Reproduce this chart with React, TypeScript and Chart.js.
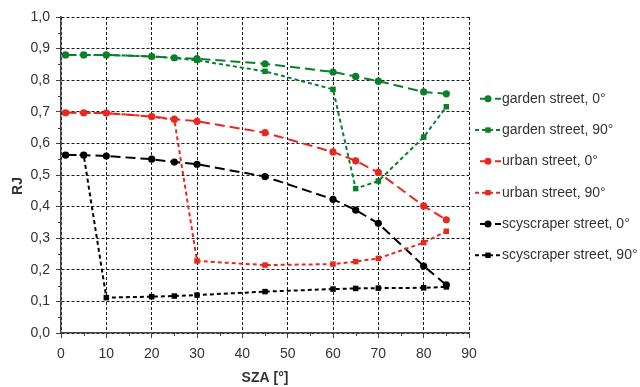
import React, { useEffect, useRef } from 'react';
import { Chart, registerables } from 'chart.js';

Chart.register(...registerables);

// ---- data ----
const sza = [1, 5, 10, 20, 25, 30, 45, 60, 65, 70, 80, 85];
const garden0 = [0.880, 0.880, 0.880, 0.875, 0.871, 0.868, 0.852, 0.826, 0.812, 0.797, 0.763, 0.757];
const garden90 = [0.880, 0.880, 0.880, 0.875, 0.870, 0.863, 0.828, 0.771, 0.457, 0.481, 0.620, 0.716];
const urban0 = [0.697, 0.697, 0.696, 0.685, 0.677, 0.670, 0.634, 0.573, 0.545, 0.508, 0.402, 0.358];
const urban90 = [0.697, 0.697, 0.696, 0.685, 0.675, 0.228, 0.215, 0.218, 0.226, 0.236, 0.286, 0.322];
const sky0 = [0.563, 0.563, 0.560, 0.550, 0.541, 0.534, 0.495, 0.423, 0.389, 0.347, 0.212, 0.152];
const sky90 = [0.563, 0.563, 0.112, 0.115, 0.117, 0.120, 0.131, 0.139, 0.141, 0.142, 0.143, 0.146];

const seriesLabels = [
  'garden street, 0°',
  'garden street, 90°',
  'urban street, 0°',
  'urban street, 90°',
  'scyscraper street, 0°',
  'scyscraper street, 90°',
];
const xTickLabels = ['0', '10', '20', '30', '40', '50', '60', '70', '80', '90'];
const yTickLabels = ['0,0', '0,1', '0,2', '0,3', '0,4', '0,5', '0,6', '0,7', '0,8', '0,9', '1,0'];
const xMinorTicks = [5, 15, 25, 35, 45, 55, 65, 75, 85];
const yMinorTicks = [0.05, 0.15, 0.25, 0.35, 0.45, 0.55, 0.65, 0.75, 0.85, 0.95];
const xTitle = 'SZA [°]';
const yTitle = 'RJ';

const GREEN = '#0b7f2a';
const RED = '#e8281e';
const BLACK = '#000000';
const LONG = [10, 5];
const SHORT = [4, 3];
const TEXT = '#333333';
const FONT = "'Liberation Sans', Arial, sans-serif";

const seriesDefs = [
  { data: garden0, color: GREEN, dash: LONG, point: 'circle' },
  { data: garden90, color: GREEN, dash: SHORT, point: 'rect' },
  { data: urban0, color: RED, dash: LONG, point: 'circle' },
  { data: urban90, color: RED, dash: SHORT, point: 'rect' },
  { data: sky0, color: BLACK, dash: LONG, point: 'circle' },
  { data: sky90, color: BLACK, dash: SHORT, point: 'rect' },
];

const extrasPlugin = {
  id: 'extras',
  afterDraw(chart: any) {
    const { ctx, chartArea } = chart;
    const xs = chart.scales.x;
    const ys = chart.scales.y;
    ctx.save();
    // minor ticks
    ctx.strokeStyle = '#444';
    ctx.lineWidth = 1;
    ctx.setLineDash([]);
    ctx.beginPath();
    xMinorTicks.forEach((v) => {
      const px = Math.round(xs.getPixelForValue(v)) + 0.5;
      ctx.moveTo(px, chartArea.bottom);
      ctx.lineTo(px, chartArea.bottom + 3);
    });
    yMinorTicks.forEach((v) => {
      const py = Math.round(ys.getPixelForValue(v)) + 0.5;
      ctx.moveTo(chartArea.left - 3, py);
      ctx.lineTo(chartArea.left, py);
    });
    ctx.stroke();

    // y axis title
    ctx.save();
    ctx.translate(18, (chartArea.top + chartArea.bottom) / 2 + 11);
    ctx.rotate(-Math.PI / 2);
    ctx.fillStyle = TEXT;
    ctx.font = `bold 14px ${FONT}`;
    ctx.textAlign = 'center';
    ctx.textBaseline = 'middle';
    ctx.fillText(yTitle, 0, 0);
    ctx.restore();

    // legend
    const spacing = 31.3;
    const n = chart.data.datasets.length;
    const cy = (chartArea.top + chartArea.bottom) / 2 + 2;
    const x0 = chartArea.right + 6;
    chart.data.datasets.forEach((ds: any, i: number) => {
      const y = cy + (i - (n - 1) / 2) * spacing;
      ctx.strokeStyle = ds.borderColor;
      ctx.lineWidth = 2;
      ctx.setLineDash(ds.borderDash);
      ctx.lineDashOffset = ds.pointStyle === 'circle' ? -5 : 0;
      ctx.beginPath();
      ctx.moveTo(x0, y);
      ctx.lineTo(x0 + 26, y);
      ctx.stroke();
      ctx.setLineDash([]);
      ctx.fillStyle = ds.borderColor;
      const px = x0 + 13;
      if (ds.pointStyle === 'circle') {
        ctx.beginPath();
        ctx.arc(px, y, 3.5, 0, Math.PI * 2);
        ctx.fill();
      } else {
        ctx.fillRect(px - 2.7, y - 2.7, 5.4, 5.4);
      }
      ctx.fillStyle = TEXT;
      ctx.font = `14px ${FONT}`;
      ctx.textAlign = 'left';
      ctx.textBaseline = 'middle';
      ctx.fillText(ds.label, x0 + 27, y);
    });
    ctx.restore();
  },
};

export default function App() {
  const ref = useRef<HTMLCanvasElement>(null);
  useEffect(() => {
    document.body.style.margin = '0';
    const canvas = ref.current;
    if (!canvas) return;
    const datasets = seriesDefs.map((d, i) => ({
      label: seriesLabels[i],
      data: sza.map((x, j) => ({ x, y: d.data[j] })),
      borderColor: d.color,
      backgroundColor: d.color,
      pointBackgroundColor: d.color,
      pointBorderColor: d.color,
      pointBorderWidth: 0,
      borderWidth: 2,
      borderDash: d.dash,
      pointStyle: d.point,
      pointRadius: d.point === 'circle' ? 3.6 : 3.9,
      tension: 0,
      fill: false,
    }));
    const chart = new Chart(canvas, {
      type: 'line',
      data: { datasets },
      plugins: [extrasPlugin],
      options: {
        responsive: false,
        animation: false,
        devicePixelRatio: 1,
        layout: { padding: { top: 17, right: 171, left: 0, bottom: 0 } },
        plugins: { legend: { display: false }, tooltip: { enabled: false } },
        font: { family: FONT, size: 14 },
        color: TEXT,
        scales: {
          x: {
            type: 'linear',
            min: 0,
            max: 90,
            afterFit: (s: any) => { s.height = 54; },
            ticks: {
              stepSize: 10,
              padding: 8,
              color: TEXT,
              font: { family: FONT, size: 14 },
              maxRotation: 0,
              callback: (_v: any, i: number) => xTickLabels[i],
            },
            grid: { color: '#1a1a1a', lineWidth: 1, tickLength: 5, tickColor: '#444', drawTicks: true },
            border: { color: '#444', width: 1.5, dash: [3, 2] },
            title: {
              display: true,
              text: xTitle,
              color: TEXT,
              font: { family: FONT, size: 14, weight: 'bold' },
              padding: { top: 0, bottom: 0 },
            },
          },
          y: {
            type: 'linear',
            min: 0,
            max: 1,
            afterFit: (s: any) => { s.width = 61; },
            ticks: {
              stepSize: 0.1,
              padding: 6,
              color: TEXT,
              font: { family: FONT, size: 14 },
              callback: (_v: any, i: number) => yTickLabels[i],
            },
            grid: { color: '#1a1a1a', lineWidth: 1, tickLength: 5, tickColor: '#444', drawTicks: true },
            border: { color: '#444', width: 1.5, dash: [3, 2] },
            title: { display: false },
          },
        },
      } as any,
    });
    return () => chart.destroy();
  }, []);
  return (
    <div style={{ position: 'absolute', left: 0, top: 0, width: 640, height: 387, background: '#fff' }}>
      <canvas ref={ref} width={640} height={387} style={{ width: 640, height: 387, display: 'block' }} />
    </div>
  );
}
